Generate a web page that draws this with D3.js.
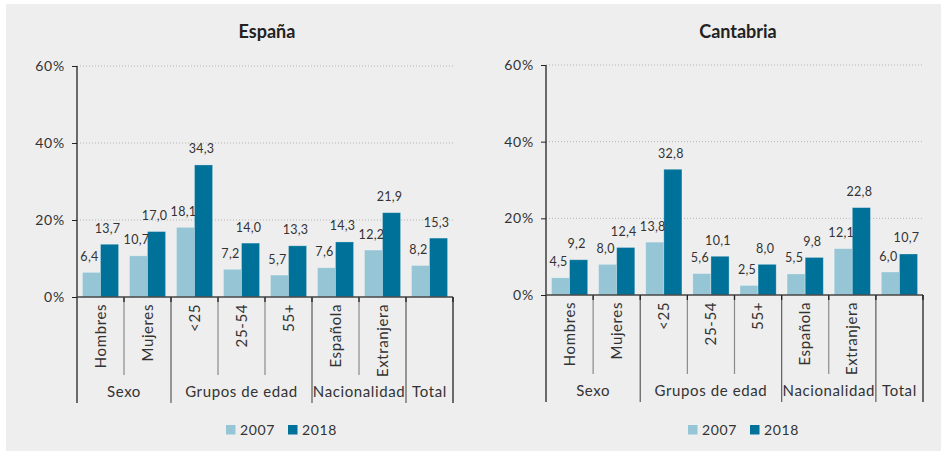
<!DOCTYPE html>
<html><head><meta charset="utf-8">
<script src="https://cdn.jsdelivr.net/npm/d3@7"></script>
<style>
html,body{margin:0;padding:0;background:#fff;}
text{font-family:Lato,"Open Sans",sans-serif;fill:#333;}
</style></head>
<body>
<svg id="c" width="949" height="453"></svg>
<script>
const categories = ["Hombres","Mujeres","<25","25-54","55+","Española","Extranjera","Total"];
const categoryLabels = ["Hombres","Mujeres","<25","25-54","55+","Española","Extranjera",""];
const groups = [
  {name:"Sexo", from:0, to:2},
  {name:"Grupos de edad", from:2, to:5},
  {name:"Nacionalidad", from:5, to:7},
  {name:"Total", from:7, to:8}
];
const years = ["2007","2018"];
const espana2007 = [6.4, 10.7, 18.1, 7.2, 5.7, 7.6, 12.2, 8.2];
const espana2018 = [13.7, 17.0, 34.3, 14.0, 13.3, 14.3, 21.9, 15.3];
const cantabria2007 = [4.5, 8.0, 13.8, 5.6, 2.5, 5.5, 12.1, 6.0];
const cantabria2018 = [9.2, 12.4, 32.8, 10.1, 8.0, 9.8, 22.8, 10.7];
const yTicks = [0, 20, 40, 60];

const colors = {"2007":"#96c6d6","2018":"#00729a"};
const locale = d3.formatLocale({decimal:",", thousands:".", grouping:[3], currency:["","€"]});
const fmt = locale.format(".1f");

const svg = d3.select("#c");
svg.append("rect").attr("x",6).attr("y",4).attr("width",935).attr("height",447).attr("fill","#eeeeee");

const panels = [
  {title:"España", s2007:espana2007, s2018:espana2018, x0:77, x1:453, yTop:66, yBot:297, inner:375, outer:403, legX:226, titleX:267},
  {title:"Cantabria", s2007:cantabria2007, s2018:cantabria2018, x0:546, x1:923, yTop:65, yBot:295, inner:374, outer:402, legX:688, titleX:738}
];

panels.forEach(p => {
  const g = svg.append("g");
  const x = d3.scaleBand().domain(categories).range([p.x0, p.x1]).padding(0);
  const xi = d3.scaleBand().domain(years).range([0, x.bandwidth()]).paddingInner(0).paddingOuter(0.3);
  const y = d3.scaleLinear().domain([0, 60]).range([p.yBot, p.yTop]);

  // title
  g.append("text").attr("x", p.titleX).attr("y", 38).attr("text-anchor","middle")
    .style("font-size","18px").style("font-weight","700").style("fill","#222").text(p.title);

  // gridlines
  g.selectAll(".grid").data(yTicks.filter(t => t>0)).enter().append("line")
    .attr("x1", p.x0).attr("x2", p.x1).attr("y1", d=>y(d)).attr("y2", d=>y(d))
    .attr("stroke","#b5b5b5").attr("stroke-width",1).attr("stroke-dasharray","1,2");

  // y axis
  const yAxis = d3.axisLeft(y).tickValues(yTicks).tickSize(5).tickPadding(7).tickFormat(d => d + "%");
  const ya = g.append("g").attr("transform", `translate(${p.x0},0)`).call(yAxis);
  ya.select(".domain").remove();
  ya.selectAll(".tick line").attr("stroke","#222");
  ya.selectAll(".tick text").style("font-size","14px").style("font-family","Lato, sans-serif").style("fill","#333").attr("letter-spacing","0.8");
  g.append("line").attr("x1", p.x0).attr("x2", p.x0).attr("y1", p.yTop).attr("y2", p.outer).attr("stroke","#222").attr("stroke-width",1.3);

  // bars
  const data = categories.map((c,i) => ({cat:c, vals:[{year:"2007", v:p.s2007[i]},{year:"2018", v:p.s2018[i]}]}));
  const cg = g.selectAll(".cat").data(data).enter().append("g").attr("transform", d => `translate(${x(d.cat)},0)`);
  cg.selectAll("rect").data(d => d.vals).enter().append("rect")
    .attr("x", d => xi(d.year)).attr("width", xi.bandwidth())
    .attr("y", d => y(d.v)).attr("height", d => y(0) - y(d.v))
    .attr("fill", d => colors[d.year]).attr("stroke","rgba(255,255,255,0.35)").attr("stroke-width",0.8);
  cg.selectAll("text.val").data(d => d.vals).enter().append("text").attr("class","val")
    .attr("x", d => xi(d.year) + xi.bandwidth()/2 - 2).attr("y", d => y(d.v) - 11.5)
    .attr("text-anchor","middle").style("font-size","12.5px").attr("letter-spacing","0.3").text(d => fmt(d.v));

  // baseline
  g.append("line").attr("x1", p.x0).attr("x2", p.x1).attr("y1", y(0)).attr("y2", y(0)).attr("stroke","#444").attr("stroke-width",1.3);

  // category dividers
  const bounds = d3.range(1, categories.length + 1);
  const groupEnds = new Set(groups.map(gr => gr.to));
  bounds.forEach(b => {
    const xb = b < categories.length ? x(categories[b]) : p.x1;
    const isOuter = groupEnds.has(b);
    g.append("line").attr("x1", xb).attr("x2", xb).attr("y1", y(0)).attr("y2", isOuter ? p.outer : p.inner)
      .attr("stroke", isOuter ? (b === categories.length ? "#222" : "#666") : "#8a8a8a").attr("stroke-width", isOuter ? 1.3 : 1.2);
    g.append("line").attr("x1", xb).attr("x2", xb).attr("y1", y(0)).attr("y2", y(0)+5).attr("stroke","#222").attr("stroke-width",1.3);
  });

  // category labels (rotated)
  g.selectAll(".clab").data(categories).enter().append("text")
    .attr("transform", d => `translate(${x(d) + x.bandwidth()/2 + 5},${y(0) + 7}) rotate(-90)`)
    .attr("text-anchor","end").style("font-size","15px").attr("letter-spacing","0.6")
    .text((d,i) => categoryLabels[i]);

  // group labels
  g.selectAll(".glab").data(groups).enter().append("text")
    .attr("x", d => (x(categories[d.from]) + (d.to < categories.length ? x(categories[d.to]) : p.x1)) / 2)
    .attr("y", p.outer - 6).attr("text-anchor","middle").style("font-size","15px").attr("letter-spacing","0.6").text(d => d.name);

  // legend
  const lg = g.append("g").attr("transform", `translate(${p.legX},0)`);
  const legItems = lg.selectAll("g").data(years).enter().append("g").attr("transform", (d,i) => `translate(${i*62},0)`);
  legItems.append("rect").attr("x",0).attr("y",425).attr("width",9.5).attr("height",9.5).attr("fill", d => colors[d]);
  legItems.append("text").attr("x",14).attr("y",435).style("font-size","14px").attr("letter-spacing","0.6").text(d => d);
});
</script>
</body></html>
